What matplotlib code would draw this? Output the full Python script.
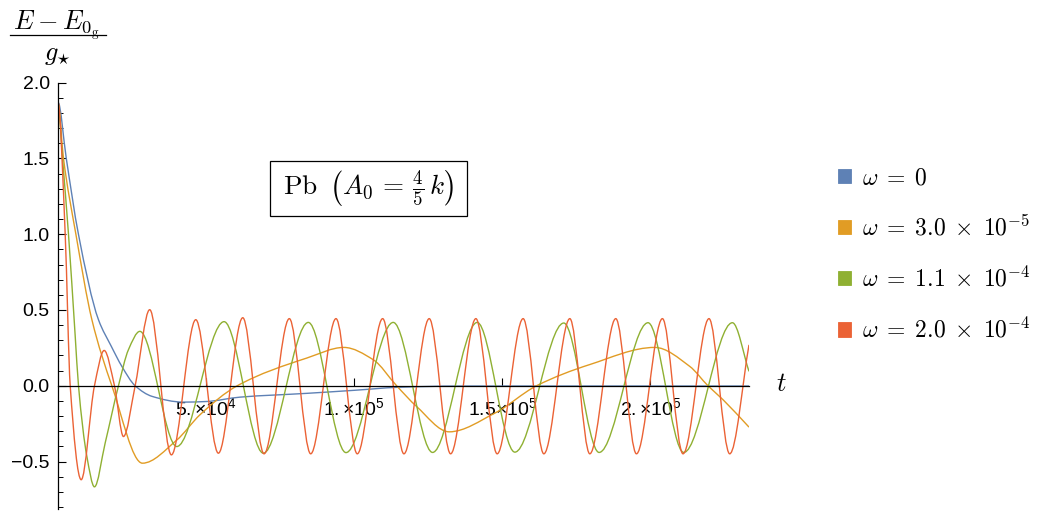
import numpy as np
import matplotlib
matplotlib.use("Agg")
import matplotlib.pyplot as plt
from matplotlib.path import Path
from matplotlib.patches import PathPatch, Patch, Rectangle
from matplotlib.lines import Line2D

# ---------------- data ----------------
blue_t = [0, 2800, 6900, 13660, 18000, 21550, 26040, 31750, 42330,
          50000, 61500, 84000, 100000, 115000, 135000, 233250]
blue_E = [1.87, 1.50, 1.00, 0.436, 0.26, 0.128, 0.00, -0.07, -0.108,
          -0.104, -0.075, -0.05, -0.03, -0.01, -0.002, -0.002]

orange_t = [0, 1850, 6040, 11440, 18180, 28500, 40000,
            48000, 60500, 84000, 96500, 106400, 114300, 121060,
            132050, 147500, 161540, 179510, 201430, 213240, 219400,
            224480, 233250]
orange_E = [1.86, 1.50, 1.00, 0.436, 0.00, -0.511, -0.36,
            -0.19, 0.00, 0.183, 0.253, 0.172, 0.00, -0.137,
            -0.304, -0.18, 0.00, 0.14, 0.253, 0.128, 0.00,
            -0.092, -0.273]

green_t = [0, 1520, 3540, 5800, 6920, 9750, 12310, 15920, 20410, 23780,
           27630, 40100, 56060, 69320, 84500, 97210, 113160, 126440, 141500,
           154210, 170740, 182650, 199170, 211220, 227650, 233250]
green_E = [1.86, 1.50, 1.00, 0.33, 0.00, -0.467, -0.667, -0.378, 0.00,
           0.238, 0.359, -0.401, 0.423, -0.445, 0.418, -0.441, 0.418, -0.44,
           0.418, -0.438, 0.414, -0.44, 0.416, -0.44, 0.416, 0.095]

red_t = [0, 2430, 4120, 7830, 12310, 15580, 19060, 22090, 26040,
         30950, 38280, 46510, 54140, 62370, 69550, 78090, 85300, 93840,
         101020, 109590, 116770, 125310, 132530, 141060, 148240, 157010,
         164000, 172770, 179510, 188280, 195260, 204030, 210980, 219750,
         226740, 233250]
red_E = [1.87, 1.00, 0.00, -0.62, 0.00, 0.233, 0.00, -0.335, 0.00,
         0.502, -0.456, 0.436, -0.445, 0.449, -0.449, 0.443, -0.449, 0.443,
         -0.449, 0.443, -0.449, 0.443, -0.449, 0.443, -0.449, 0.443,
         -0.449, 0.443, -0.449, 0.443, -0.449, 0.443, -0.449, 0.443,
         -0.449, 0.27]

series_labels = [r'$\omega\;=\;0$',
                 r'$\omega\;=\;3.0\;\times\;10^{-5}$',
                 r'$\omega\;=\;1.1\;\times\;10^{-4}$',
                 r'$\omega\;=\;2.0\;\times\;10^{-4}$']
series_colors = ['#5E81B5', '#E19C24', '#8FB032', '#EB6235']

x_ticks = [50000, 100000, 150000, 200000]
x_tick_labels = [r'$5.{\times}10^{4}$', r'$1.{\times}10^{5}$',
                 r'$1.5{\times}10^{5}$', r'$2.{\times}10^{5}$']
y_ticks = [-0.5, 0.0, 0.5, 1.0, 1.5, 2.0]
y_tick_labels = ['\u22120.5', '0.0', '0.5', '1.0', '1.5', '2.0']
y_minor = [-0.8, -0.7, -0.6, -0.4, -0.3, -0.2, -0.1, 0.1, 0.2, 0.3, 0.4,
           0.6, 0.7, 0.8, 0.9, 1.1, 1.2, 1.3, 1.4, 1.6, 1.7, 1.8, 1.9]


def smooth_path(x, y):
    """Smooth Bezier path through the read points (monotone Hermite tangents)."""
    x = np.asarray(x, float)
    y = np.asarray(y, float)
    h = np.diff(x)
    d = np.diff(y) / h
    n = len(x)
    m = np.zeros(n)
    for k in range(1, n - 1):
        if d[k - 1] * d[k] > 0:
            w1 = 2 * h[k] + h[k - 1]
            w2 = h[k] + 2 * h[k - 1]
            m[k] = (w1 + w2) / (w1 / d[k - 1] + w2 / d[k])
    m[0] = 0.0
    m[-1] = d[-1]
    verts = [(x[0], y[0])]
    codes = [Path.MOVETO]
    for k in range(n - 1):
        verts += [(x[k] + h[k] / 3, y[k] + m[k] * h[k] / 3),
                  (x[k + 1] - h[k] / 3, y[k + 1] - m[k + 1] * h[k] / 3),
                  (x[k + 1], y[k + 1])]
        codes += [Path.CURVE4] * 3
    return Path(verts, codes)


plt.rcParams['mathtext.fontset'] = 'custom'
plt.rcParams['mathtext.rm'] = 'Liberation Sans'
plt.rcParams['mathtext.it'] = 'Liberation Sans:italic'
plt.rcParams['mathtext.bf'] = 'Liberation Sans:bold'
plt.rcParams['font.family'] = ['Liberation Sans', 'DejaVu Sans']

W, H = 1044, 514
fig = plt.figure(figsize=(W / 100, H / 100), dpi=100)
ax = fig.add_axes([58 / W, 1 - 508.5 / H, (749 - 58) / W, (508.5 - 82.7) / H])

ax.set_xlim(0, 233250)
ax.set_ylim(-0.81, 2.0)

all_t = [blue_t, orange_t, green_t, red_t]
all_E = [blue_E, orange_E, green_E, red_E]
for tt, ee, c in zip(all_t, all_E, series_colors):
    ax.add_patch(PathPatch(smooth_path(tt, ee), facecolor='none',
                           edgecolor=c, lw=1.0, zorder=2))

for s in ['top', 'right']:
    ax.spines[s].set_visible(False)
ax.spines['bottom'].set_position(('data', 0))
ax.spines['left'].set_position(('data', 0))
for s in ['bottom', 'left']:
    ax.spines[s].set_linewidth(0.9)
    ax.spines[s].set_zorder(3)

ax.set_xticks(x_ticks)
ax.set_xticklabels(x_tick_labels)
ax.set_yticks(y_ticks)
ax.set_yticklabels(y_tick_labels)
ax.set_yticks(y_minor, minor=True)
ax.tick_params(axis='both', which='major', direction='in', length=5.8,
               width=0.8, labelsize=14)
ax.tick_params(axis='y', which='minor', direction='in', length=3.4, width=0.7)
ax.tick_params(axis='x', which='major', pad=8.5)
ax.tick_params(axis='y', which='major', pad=6)

# y axis label as a built fraction
fig.text(57 / W, 1 - 30.5 / H, r'$E-E_{0_{\mathrm{g}}}$',
         ha='center', va='baseline', fontsize=19, math_fontfamily='cm')
fig.add_artist(Line2D([9.5 / W, 106 / W], [1 - 35 / H, 1 - 35 / H],
                      color='black', lw=0.9))
fig.text(57 / W, 1 - 60 / H, r'$g_{\star}$',
         ha='center', va='baseline', fontsize=19, math_fontfamily='cm')
fig.text(781 / W, 1 - 384 / H, r'$t$', ha='center', va='center',
         fontsize=19, math_fontfamily='cm')

# framed annotation
fig.add_artist(Rectangle((270 / W, 1 - 216 / H), 197 / W, 55 / H,
                         transform=fig.transFigure, facecolor='white',
                         edgecolor='black', lw=0.9, zorder=4))
fig.text(368.5 / W, 1 - 188.5 / H,
         r'$\mathrm{Pb}\;\;\left(A_0\,=\,\frac{4}{5}\,k\right)$',
         ha='center', va='center', fontsize=19.5, math_fontfamily='cm',
         zorder=5)

# legend
handles = [Patch(facecolor=c, edgecolor=c, lw=0.6) for c in series_colors]
fs_leg = 17
leg = fig.legend(handles, series_labels, loc='center left',
                 bbox_to_anchor=(817 / W, 1 - 255 / H), frameon=False,
                 prop={'size': fs_leg, 'math_fontfamily': 'cm'},
                 handlelength=0.55, handleheight=0.55, handletextpad=0.45,
                 labelspacing=1.1)

fig.savefig('out.png', dpi=100)
